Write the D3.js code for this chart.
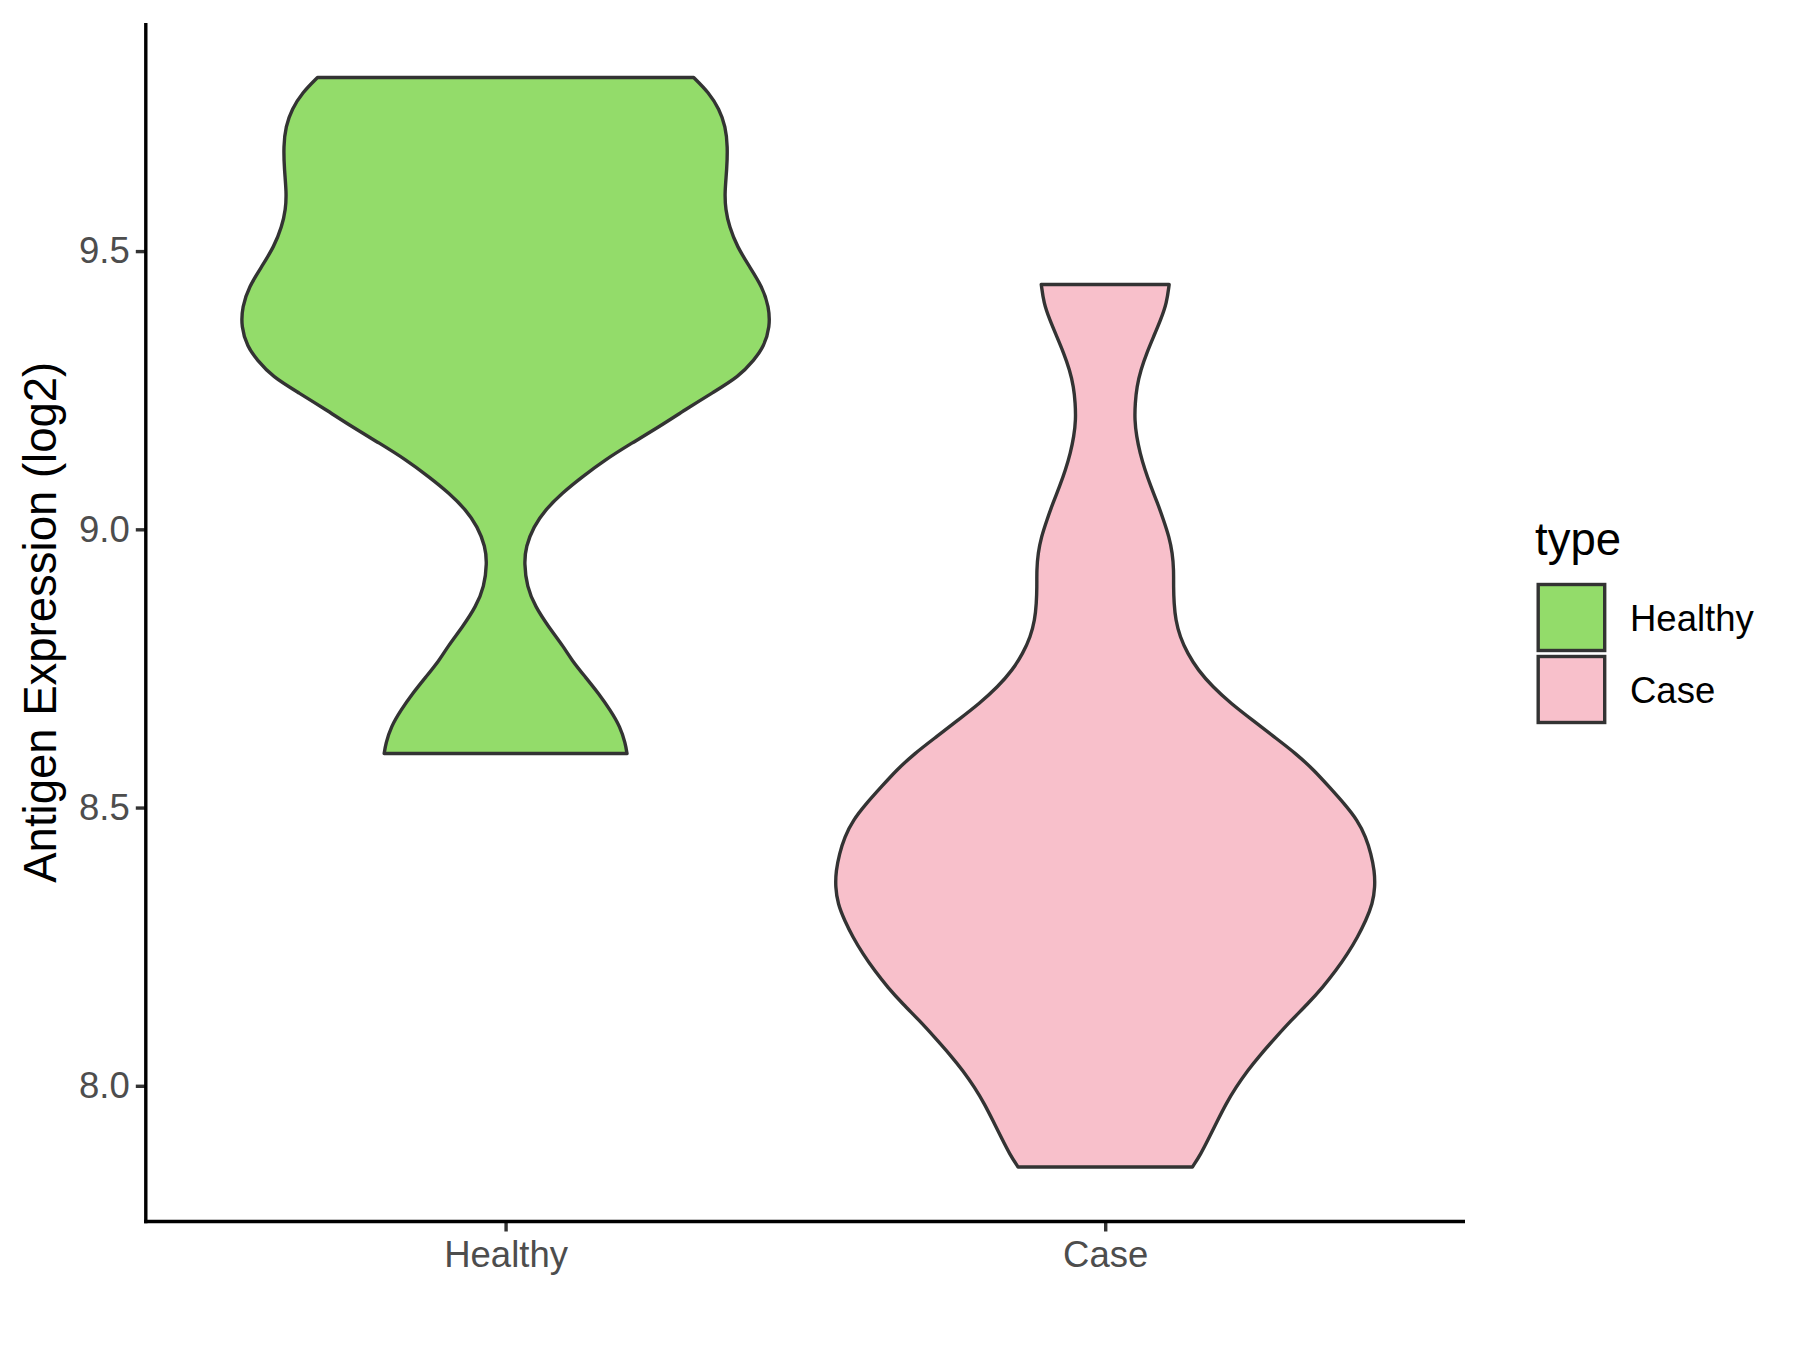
<!DOCTYPE html>
<html>
<head>
<meta charset="utf-8">
<script src="https://cdn.jsdelivr.net/npm/d3@7"></script>
<style>
  html, body { margin: 0; padding: 0; background: #ffffff; }
  svg { display: block; }
  text { font-family: "Liberation Sans", Arial, sans-serif; }
</style>
</head>
<body>
<svg id="chart" width="1800" height="1350"></svg>
<script>
// ---------------- data ----------------
const categories = ["Healthy", "Case"];
const fillColors = ["#93DC6A", "#F8C0CB"];
const yTicks = [8.0, 8.5, 9.0, 9.5];
const yTitle = "Antigen Expression (log2)";
const legendTitle = "type";

// Healthy: expression level (log2) and relative violin width (density / global max density)
const healthyLevels = [9.812, 9.785, 9.755, 9.724, 9.688, 9.647, 9.605, 9.575, 9.544, 9.508,
  9.472, 9.436, 9.400, 9.364, 9.328, 9.305, 9.274, 9.245, 9.215, 9.184,
  9.155, 9.125, 9.094, 9.065, 9.035, 9.005, 8.969, 8.939, 8.897, 8.861,
  8.825, 8.789, 8.765, 8.735, 8.705, 8.675, 8.645, 8.615, 8.597];
const healthyDensity = [0.697, 0.753, 0.792, 0.815, 0.823, 0.820, 0.812, 0.815, 0.829, 0.858,
  0.904, 0.951, 0.976, 0.980, 0.957, 0.922, 0.864, 0.765, 0.666, 0.568,
  0.468, 0.369, 0.283, 0.209, 0.147, 0.104, 0.075, 0.069, 0.079, 0.110,
  0.159, 0.215, 0.245, 0.295, 0.345, 0.388, 0.425, 0.444, 0.450];

// Case
const caseLevels = [9.440, 9.407, 9.377, 9.346, 9.317, 9.287, 9.256, 9.227, 9.197, 9.167,
  9.137, 9.107, 9.077, 9.047, 9.017, 8.986, 8.957, 8.927, 8.897, 8.867,
  8.837, 8.807, 8.777, 8.747, 8.717, 8.687, 8.657, 8.627, 8.597, 8.567,
  8.537, 8.507, 8.477, 8.447, 8.417, 8.386, 8.357, 8.327, 8.297, 8.267,
  8.237, 8.207, 8.177, 8.147, 8.117, 8.087, 8.057, 8.027, 7.997, 7.967,
  7.937, 7.907, 7.877, 7.854];
const caseDensity = [0.237, 0.228, 0.206, 0.179, 0.154, 0.132, 0.117, 0.111, 0.109, 0.116,
  0.129, 0.147, 0.169, 0.194, 0.216, 0.237, 0.249, 0.254, 0.253, 0.255,
  0.261, 0.277, 0.305, 0.344, 0.398, 0.466, 0.546, 0.626, 0.707, 0.774,
  0.830, 0.886, 0.935, 0.966, 0.985, 0.998, 1.000, 0.991, 0.966, 0.935,
  0.898, 0.855, 0.806, 0.750, 0.688, 0.632, 0.577, 0.527, 0.484, 0.447,
  0.416, 0.385, 0.354, 0.323];

const groups = [
  { name: categories[0], levels: healthyLevels, density: healthyDensity, fill: fillColors[0] },
  { name: categories[1], levels: caseLevels, density: caseDensity, fill: fillColors[1] }
];

// ---------------- layout ----------------
const svg = d3.select("#chart");
const panel = { left: 145.8, right: 1465, top: 23, bottom: 1221.5 };
const lineW = 3.4;
const dark = "#333333";
const tickFont = 36.5;
const titleFont = 45.5;

const allVals = healthyLevels.concat(caseLevels);
const [vmin, vmax] = d3.extent(allVals);
const pad = (vmax - vmin) * 0.05;

const y = d3.scaleLinear().domain([vmin - pad, vmax + pad]).range([panel.bottom, panel.top]);
const x = d3.scalePoint().domain(categories).range([panel.left, panel.right]).padding(0.6);
const halfW = d3.scaleLinear().domain([0, 1]).range([0, 0.45 * x.step()]);

// violins
groups.forEach(g => {
  const cx = x(g.name);
  const pts = g.levels.map((v, i) => ({ v: v, w: g.density[i] }));
  const area = d3.area()
    .y(d => y(d.v))
    .x0(d => cx - halfW(d.w))
    .x1(d => cx + halfW(d.w))
    .curve(d3.curveBasis);
  svg.append("path")
    .attr("d", area(pts))
    .attr("fill", g.fill)
    .attr("stroke", dark)
    .attr("stroke-width", lineW)
    .attr("stroke-linejoin", "round");
});

// axes
const yAxis = d3.axisLeft(y).tickValues(yTicks).tickFormat(d3.format(".1f")).tickSizeOuter(0).tickSize(10).tickPadding(6);
const gy = svg.append("g").attr("transform", `translate(${panel.left},0)`).call(yAxis);
gy.select(".domain").remove();
gy.selectAll(".tick line").attr("stroke", dark).attr("stroke-width", lineW);
gy.selectAll(".tick text").attr("fill", "#4D4D4D").attr("font-size", tickFont)
  .attr("font-family", "Liberation Sans, Arial, sans-serif");

const xAxis = d3.axisBottom(x).tickSizeOuter(0).tickSize(10).tickPadding(10);
const gx = svg.append("g").attr("transform", `translate(0,${panel.bottom})`).call(xAxis);
gx.select(".domain").remove();
gx.selectAll(".tick line").attr("stroke", dark).attr("stroke-width", lineW);
gx.selectAll(".tick text").attr("fill", "#4D4D4D").attr("font-size", tickFont)
  .attr("font-family", "Liberation Sans, Arial, sans-serif");

// axis lines
svg.append("line").attr("x1", panel.left).attr("x2", panel.left)
  .attr("y1", panel.top).attr("y2", panel.bottom + lineW / 2)
  .attr("stroke", "#000").attr("stroke-width", lineW);
svg.append("line").attr("x1", panel.left - lineW / 2).attr("x2", panel.right)
  .attr("y1", panel.bottom).attr("y2", panel.bottom)
  .attr("stroke", "#000").attr("stroke-width", lineW);

// y title
svg.append("text")
  .attr("transform", `translate(56,${(panel.top + panel.bottom) / 2}) rotate(-90)`)
  .attr("text-anchor", "middle")
  .attr("font-size", titleFont)
  .attr("fill", "#000")
  .text(yTitle);

// legend
const lg = svg.append("g");
lg.append("text").attr("x", 1535).attr("y", 555).attr("font-size", titleFont).attr("fill", "#000").text(legendTitle);
categories.forEach((c, i) => {
  const ky = 584.5 + i * 72;
  lg.append("rect").attr("x", 1538.2).attr("y", ky).attr("width", 66.5).attr("height", 66)
    .attr("fill", fillColors[i]).attr("stroke", dark).attr("stroke-width", lineW);
  lg.append("text").attr("x", 1630).attr("y", ky + 46).attr("font-size", tickFont).attr("fill", "#000").text(c);
});
</script>
</body>
</html>
